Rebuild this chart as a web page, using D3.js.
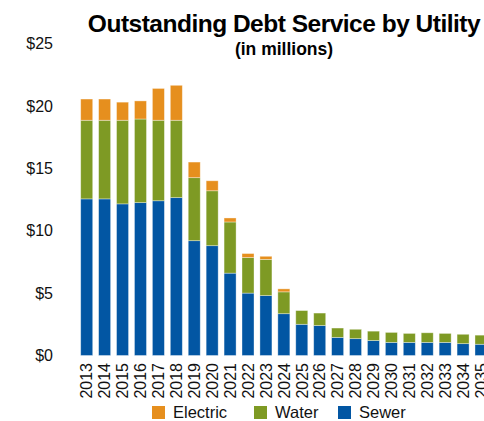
<!DOCTYPE html>
<html>
<head>
<meta charset="utf-8">
<script src="https://cdn.jsdelivr.net/npm/d3@7"></script>
<style>
  body { margin: 0; background: #fff; }
  svg { font-family: "Liberation Sans", Arial, sans-serif; display: block; }
</style>
</head>
<body>
<script>
// chart values (millions of dollars)
var years = ["2013","2014","2015","2016","2017","2018","2019","2020","2021","2022","2023","2024",
             "2025","2026","2027","2028","2029","2030","2031","2032","2033","2034","2035"];
var sewer = [12.55, 12.55, 12.15, 12.25, 12.4, 12.65, 9.2, 8.8, 6.6, 5.0, 4.8, 3.35,
             2.5, 2.4, 1.45, 1.35, 1.2, 1.05, 1.05, 1.05, 1.05, 0.95, 0.9];
var water = [6.3, 6.3, 6.7, 6.7, 6.45, 6.2, 5.05, 4.4, 4.1, 2.85, 2.9, 1.75,
             1.1, 1.0, 0.75, 0.75, 0.75, 0.8, 0.72, 0.77, 0.72, 0.75, 0.73];
var electric = [1.7, 1.7, 1.45, 1.45, 2.55, 2.8, 1.25, 0.8, 0.32, 0.32, 0.25, 0.24,
                0, 0, 0, 0, 0, 0, 0, 0, 0, 0, 0];
var yTicks = [0, 5, 10, 15, 20, 25];
var seriesNames = ["Sewer", "Water", "Electric"];
var legendOrder = ["Electric", "Water", "Sewer"];

var colors = { Sewer: "#0256a3", Water: "#7e9a24", Electric: "#e68f1e" };

var W = 484, H = 421;

var rows = years.map(function(y, i){
  return { year: y, Sewer: sewer[i], Water: water[i], Electric: electric[i] };
});

var svg = d3.select("body").append("svg")
  .attr("width", W)
  .attr("height", H);

var x = d3.scaleBand()
  .domain(years)
  .range([80.7, 487])
  .paddingInner(0.33)
  .paddingOuter(0);

var y = d3.scaleLinear()
  .domain([0, 25])
  .range([355.5, 43.5]);

// title
svg.append("text")
  .attr("x", 284).attr("y", 32)
  .attr("text-anchor", "middle")
  .attr("font-weight", "bold")
  .attr("font-size", 24.5)
  .attr("letter-spacing", -0.5)
  .text("Outstanding Debt Service by Utility");

svg.append("text")
  .attr("x", 284).attr("y", 55)
  .attr("text-anchor", "middle")
  .attr("font-weight", "bold")
  .attr("font-size", 17.5)
  .text("(in millions)");

// y axis labels only, no line
var yAxis = d3.axisLeft(y)
  .tickValues(yTicks)
  .tickSize(0)
  .tickPadding(0)
  .tickFormat(function(d){ return "$" + d; });

var gy = svg.append("g")
  .attr("transform", "translate(53,0)")
  .call(yAxis);
gy.select(".domain").remove();
gy.selectAll("text")
  .attr("font-size", 16)
  .attr("font-family", "Liberation Sans, Arial, sans-serif")
  .attr("fill", "#111");

// stacked bars
var stack = d3.stack().keys(seriesNames);
var layers = stack(rows);

svg.append("g").selectAll("g")
  .data(layers)
  .enter()
  .append("g")
    .attr("fill", function(d){ return colors[d.key]; })
  .selectAll("rect")
  .data(function(d){ return d.filter(function(p){ return p[1] - p[0] > 0; }); })
  .enter()
  .append("rect")
    .attr("x", function(d){ return x(d.data.year); })
    .attr("y", function(d){ return y(d[1]); })
    .attr("width", x.bandwidth())
    .attr("height", function(d){ return y(d[0]) - y(d[1]); })
    .attr("stroke", "rgba(255,255,255,0.45)")
    .attr("stroke-width", 0.8);

// x labels, rotated
var xAxis = d3.axisBottom(x).tickSize(0).tickPadding(0);
var gx = svg.append("g")
  .attr("transform", "translate(0,363)")
  .call(xAxis);
gx.select(".domain").remove();
gx.selectAll("text")
  .attr("font-size", 16)
  .attr("font-family", "Liberation Sans, Arial, sans-serif")
  .attr("fill", "#111")
  .attr("text-anchor", "end")
  .attr("dy", "0.36em")
  .attr("transform", "rotate(-90)")
  .attr("x", 0)
  .attr("y", 0);

// legend
var legendX = [152, 254, 338];
var legend = svg.append("g").selectAll("g")
  .data(legendOrder)
  .enter()
  .append("g")
    .attr("transform", function(d, i){ return "translate(" + legendX[i] + ",406)"; });

legend.append("rect")
  .attr("width", 13).attr("height", 13)
  .attr("fill", function(d){ return colors[d]; });

legend.append("text")
  .attr("x", 21).attr("y", 11.5)
  .attr("font-size", 16.5)
  .attr("fill", "#111")
  .text(function(d){ return d; });
</script>
</body>
</html>
